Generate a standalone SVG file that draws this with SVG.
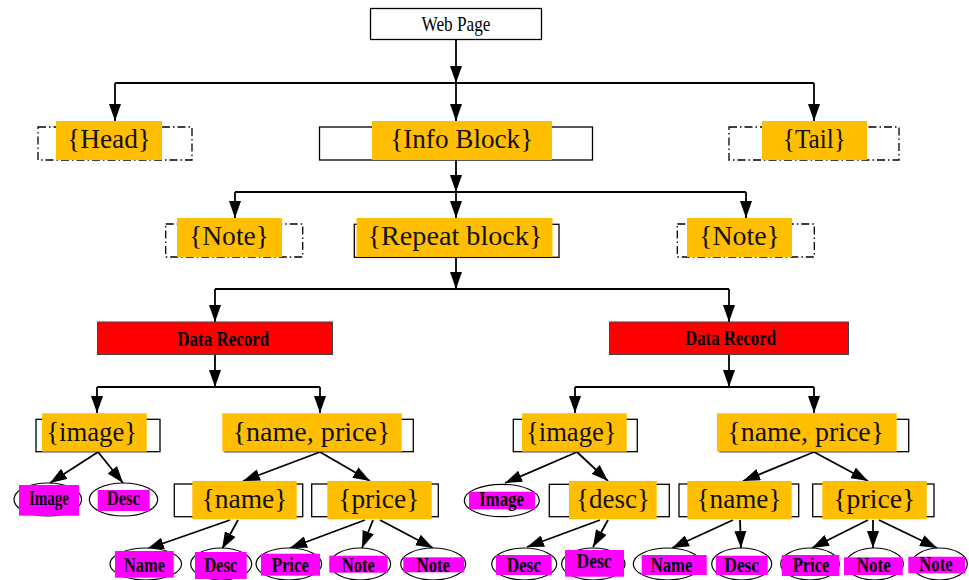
<svg xmlns="http://www.w3.org/2000/svg" width="969" height="580" viewBox="0 0 969 580">
<defs>
<marker id="ah" markerUnits="userSpaceOnUse" markerWidth="17" markerHeight="12" refX="17" refY="6" orient="auto">
<path d="M0,0 L17,6 L0,12 z" fill="#000"/>
</marker>
<style>
.box{fill:#fff;stroke:#000;stroke-width:1.3}
.dbox{fill:#fff;stroke:#000;stroke-width:1.3;stroke-dasharray:8 3 1.5 3}
.org{fill:#FFBF00}
.mag{fill:#FF00FF}
.red{fill:#FF0000;stroke:#444;stroke-width:1}
.ell{fill:#fff;stroke:#000;stroke-width:1.2}
.lbl{font-family:"Liberation Serif","Times New Roman",serif;font-size:27px;fill:#111;text-anchor:middle}
.small{font-family:"Liberation Serif","Times New Roman",serif;font-size:20px;font-weight:bold;fill:#000;text-anchor:middle}
.web{font-family:"Liberation Serif","Times New Roman",serif;font-size:21px;fill:#000;text-anchor:middle}
.edge{fill:none;stroke:#000;stroke-width:1.8}
.arr{fill:none;stroke:#000;stroke-width:1.8;marker-end:url(#ah)}
</style>
</defs>

<g id="connectors">
<path class="arr" d="M456,39 V83"/>
<path class="edge" d="M115,83 H814"/>
<path class="arr" d="M115,83 V121"/>
<path class="arr" d="M456,83 V121"/>
<path class="arr" d="M814,83 V121"/>
<path class="arr" d="M456,160 V192"/>
<path class="edge" d="M235,192 H746"/>
<path class="arr" d="M235,192 V218"/>
<path class="arr" d="M456,192 V218"/>
<path class="arr" d="M746,192 V218"/>
<path class="arr" d="M456,257 V289"/>
<path class="edge" d="M215,289 H729"/>
<path class="arr" d="M215,289 V322"/>
<path class="arr" d="M729,289 V322"/>
<path class="arr" d="M215,354 V387"/>
<path class="edge" d="M97,387 H320"/>
<path class="arr" d="M97,387 V413"/>
<path class="arr" d="M320,387 V413"/>
<path class="arr" d="M729,354 V387"/>
<path class="edge" d="M575,387 H814"/>
<path class="arr" d="M575,387 V413"/>
<path class="arr" d="M814,387 V413"/>
<path class="arr" d="M98,452 L50,483"/>
<path class="arr" d="M98,452 L123,483"/>
<path class="arr" d="M320,452 L243,481"/>
<path class="arr" d="M320,452 L370,481"/>
<path class="arr" d="M230,520 L147,549"/>
<path class="arr" d="M238,520 L222,549"/>
<path class="arr" d="M365,520 L290,548"/>
<path class="arr" d="M373,520 L362,548"/>
<path class="arr" d="M380,520 L433,548"/>
<path class="arr" d="M577,452 L505,483"/>
<path class="arr" d="M577,452 L608,481"/>
<path class="arr" d="M600,520 L527,547"/>
<path class="arr" d="M608,520 L593,547"/>
<path class="arr" d="M814,452 L743,481"/>
<path class="arr" d="M814,452 L868,481"/>
<path class="arr" d="M733,520 L672,548"/>
<path class="arr" d="M740,520 L741,548"/>
<path class="arr" d="M868,520 L812,548"/>
<path class="arr" d="M873,520 L873,548"/>
<path class="arr" d="M879,520 L937,548"/>
</g>

<g id="webpage">
<rect class="box" x="370.5" y="8.5" width="171" height="31"/>
<text class="web" x="456" y="31" textLength="69" lengthAdjust="spacingAndGlyphs">Web Page</text>
</g>

<g id="head">
<rect class="dbox" x="38" y="127" width="154" height="33"/>
<rect class="org" x="56" y="121" width="106" height="39"/>
<text class="lbl" x="109" y="148" textLength="84" lengthAdjust="spacingAndGlyphs">{Head}</text>
</g>
<g id="infoblock">
<rect class="box" x="319.5" y="127" width="273" height="33"/>
<rect class="org" x="372" y="121" width="180" height="39"/>
<text class="lbl" x="461.7" y="148" textLength="143" lengthAdjust="spacingAndGlyphs">{Info Block}</text>
</g>
<g id="tail">
<rect class="dbox" x="729" y="127" width="170" height="33"/>
<rect class="org" x="762" y="121" width="105" height="39"/>
<text class="lbl" x="814.3" y="148" textLength="63" lengthAdjust="spacingAndGlyphs">{Tail}</text>
</g>

<g id="note1">
<rect class="dbox" x="165.7" y="224" width="137" height="33"/>
<rect class="org" x="177" y="218" width="105" height="39"/>
<text class="lbl" x="229" y="245" textLength="80" lengthAdjust="spacingAndGlyphs">{Note}</text>
</g>
<g id="repeatblock">
<rect class="box" x="354.3" y="224.3" width="204.7" height="33"/>
<rect class="org" x="356.5" y="218" width="196" height="39"/>
<text class="lbl" x="455" y="245" textLength="175" lengthAdjust="spacingAndGlyphs">{Repeat block}</text>
</g>
<g id="note2">
<rect class="dbox" x="677.3" y="224" width="137" height="33"/>
<rect class="org" x="687" y="218" width="105" height="39"/>
<text class="lbl" x="739.5" y="245" textLength="81" lengthAdjust="spacingAndGlyphs">{Note}</text>
</g>

<g id="datarecord1">
<rect class="red" x="97.5" y="322" width="235" height="32.5"/>
<text class="small" x="223.3" y="346" font-size="21" textLength="92" lengthAdjust="spacingAndGlyphs">Data Record</text>
</g>
<g id="datarecord2">
<rect class="red" x="609.5" y="322" width="239" height="32.5"/>
<text class="small" x="730.5" y="345" font-size="21" textLength="91" lengthAdjust="spacingAndGlyphs">Data Record</text>
</g>

<g id="image1">
<rect class="box" x="36" y="419.3" width="124" height="32.4"/>
<rect class="org" x="42" y="413.3" width="104.7" height="38.4"/>
<text class="lbl" x="91.7" y="441" textLength="91" lengthAdjust="spacingAndGlyphs">{image}</text>
</g>
<g id="nameprice1">
<rect class="box" x="225" y="419.3" width="188.3" height="32.4"/>
<rect class="org" x="222.3" y="413.3" width="179.4" height="38.4"/>
<text class="lbl" x="311.5" y="441" textLength="158" lengthAdjust="spacingAndGlyphs">{name, price}</text>
</g>
<g id="image2">
<rect class="box" x="513.3" y="419.3" width="124" height="32.4"/>
<rect class="org" x="522" y="413.3" width="104.7" height="38.4"/>
<text class="lbl" x="571.3" y="441" textLength="90.7" lengthAdjust="spacingAndGlyphs">{image}</text>
</g>
<g id="nameprice2">
<rect class="box" x="720" y="419.3" width="188.7" height="32.4"/>
<rect class="org" x="717" y="413.3" width="179.7" height="38.4"/>
<text class="lbl" x="805.7" y="441" textLength="156.7" lengthAdjust="spacingAndGlyphs">{name, price}</text>
</g>

<g id="imgleaf1">
<ellipse class="ell" cx="47.8" cy="499.5" rx="33.8" ry="16.5"/>
<rect class="mag" x="19" y="485" width="60" height="30.7"/>
<text class="small" x="49" y="505" font-size="18" textLength="40" lengthAdjust="spacingAndGlyphs">Image</text>
</g>
<g id="descleaf1">
<ellipse class="ell" cx="123.5" cy="499.5" rx="34.2" ry="16.5"/>
<rect class="mag" x="97.7" y="490" width="52" height="21"/>
<text class="small" x="123.3" y="505" font-size="19" textLength="33" lengthAdjust="spacingAndGlyphs">Desc</text>
</g>
<g id="name1">
<rect class="box" x="174.3" y="484" width="128.4" height="32.7"/>
<rect class="org" x="192.3" y="481" width="104.4" height="38.3"/>
<text class="lbl" x="244.5" y="508" textLength="86" lengthAdjust="spacingAndGlyphs">{name}</text>
</g>
<g id="price1">
<rect class="box" x="311.7" y="484" width="126.6" height="32.7"/>
<rect class="org" x="327.3" y="481" width="104.4" height="38.3"/>
<text class="lbl" x="378.8" y="508" textLength="81" lengthAdjust="spacingAndGlyphs">{price}</text>
</g>
<g id="imgleaf2">
<ellipse class="ell" cx="501.8" cy="500.5" rx="37.5" ry="16.2"/>
<rect class="mag" x="469" y="491.7" width="66" height="17.6"/>
<text class="small" x="501.5" y="506" font-size="18" textLength="45" lengthAdjust="spacingAndGlyphs">Image</text>
</g>
<g id="desc2">
<rect class="box" x="549.3" y="484.3" width="120" height="32.4"/>
<rect class="org" x="569" y="481" width="87.7" height="38.3"/>
<text class="lbl" x="613" y="508" textLength="74" lengthAdjust="spacingAndGlyphs">{desc}</text>
</g>
<g id="name2">
<rect class="box" x="679" y="484" width="119.7" height="32.7"/>
<rect class="org" x="687.3" y="481" width="104.4" height="38.3"/>
<text class="lbl" x="739" y="508" textLength="85" lengthAdjust="spacingAndGlyphs">{name}</text>
</g>
<g id="price2">
<rect class="box" x="812.7" y="484" width="121.3" height="32.7"/>
<rect class="org" x="822.3" y="481" width="104.4" height="38.3"/>
<text class="lbl" x="874.3" y="508" textLength="82" lengthAdjust="spacingAndGlyphs">{price}</text>
</g>

<g id="leafName1">
<ellipse class="ell" cx="145.8" cy="564" rx="35.8" ry="16"/>
<rect class="mag" x="115" y="551" width="58.7" height="26.7"/>
<text class="small" x="144.5" y="571.5" font-size="21" textLength="41" lengthAdjust="spacingAndGlyphs">Name</text>
</g>
<g id="leafDesc1">
<ellipse class="ell" cx="221.2" cy="564" rx="30.5" ry="16"/>
<rect class="mag" x="195" y="552" width="51.7" height="27"/>
<text class="small" x="220.7" y="571.5" font-size="21" textLength="33" lengthAdjust="spacingAndGlyphs">Desc</text>
</g>
<g id="leafPrice1">
<ellipse class="ell" cx="288.8" cy="564" rx="32.8" ry="16"/>
<rect class="mag" x="261" y="553.7" width="59" height="22"/>
<text class="small" x="290.3" y="571.5" font-size="21" textLength="37" lengthAdjust="spacingAndGlyphs">Price</text>
</g>
<g id="leafNote1">
<ellipse class="ell" cx="360.3" cy="564" rx="30.3" ry="16"/>
<rect class="mag" x="329.3" y="555.7" width="58.4" height="17"/>
<text class="small" x="358.3" y="571.5" font-size="21" textLength="33" lengthAdjust="spacingAndGlyphs">Note</text>
</g>
<g id="leafNote2">
<ellipse class="ell" cx="433.2" cy="564" rx="32.5" ry="16"/>
<rect class="mag" x="403.3" y="557.3" width="61" height="15"/>
<text class="small" x="433.3" y="571.5" font-size="21" textLength="33" lengthAdjust="spacingAndGlyphs">Note</text>
</g>
<g id="leafDesc2">
<ellipse class="ell" cx="524.2" cy="564" rx="32.5" ry="16"/>
<rect class="mag" x="496" y="555" width="55.7" height="20"/>
<text class="small" x="523.7" y="571.5" font-size="21" textLength="34" lengthAdjust="spacingAndGlyphs">Desc</text>
</g>
<g id="leafDesc3">
<ellipse class="ell" cx="593.3" cy="564" rx="31.7" ry="16"/>
<rect class="mag" x="565" y="550" width="59" height="26.7"/>
<text class="small" x="594" y="568" font-size="21" textLength="35" lengthAdjust="spacingAndGlyphs">Desc</text>
</g>
<g id="leafName2">
<ellipse class="ell" cx="667.5" cy="564" rx="34.2" ry="16"/>
<rect class="mag" x="641.7" y="555" width="65" height="20"/>
<text class="small" x="671.5" y="571.5" font-size="21" textLength="41.6" lengthAdjust="spacingAndGlyphs">Name</text>
</g>
<g id="leafDesc4">
<ellipse class="ell" cx="741.7" cy="564" rx="30" ry="16"/>
<rect class="mag" x="716" y="555.7" width="51.7" height="19.3"/>
<text class="small" x="741.7" y="571.5" font-size="21" textLength="34.7" lengthAdjust="spacingAndGlyphs">Desc</text>
</g>
<g id="leafPrice2">
<ellipse class="ell" cx="810" cy="564" rx="29.3" ry="16"/>
<rect class="mag" x="781.7" y="555" width="57.6" height="21"/>
<text class="small" x="811" y="571.5" font-size="21" textLength="36.7" lengthAdjust="spacingAndGlyphs">Price</text>
</g>
<g id="leafNote3">
<ellipse class="ell" cx="874.5" cy="564" rx="28.8" ry="16"/>
<rect class="mag" x="844" y="557.3" width="58.7" height="17.7"/>
<text class="small" x="873.7" y="571.5" font-size="21" textLength="34" lengthAdjust="spacingAndGlyphs">Note</text>
</g>
<g id="leafNote4">
<ellipse class="ell" cx="939.5" cy="564" rx="27.8" ry="16"/>
<rect class="mag" x="908.3" y="556.7" width="56.7" height="16.6"/>
<text class="small" x="936" y="571" font-size="21" textLength="33.3" lengthAdjust="spacingAndGlyphs">Note</text>
</g>
</svg>
